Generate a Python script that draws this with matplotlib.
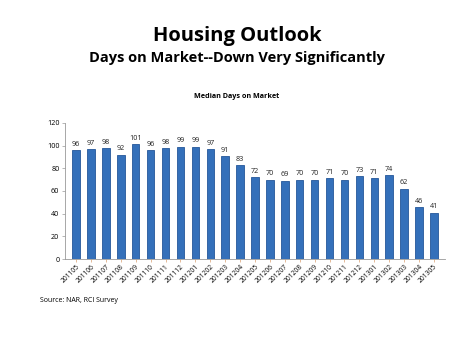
import matplotlib.pyplot as plt

plt.rcParams['font.family'] = ['Open Sans', 'DejaVu Sans']

months = ['201105', '201106', '201107', '201108', '201109', '201110', '201111',
          '201112', '201201', '201202', '201203', '201204', '201205', '201206',
          '201207', '201208', '201209', '201210', '201211', '201212', '201301',
          '201302', '201303', '201304', '201305']
days = [96, 97, 98, 92, 101, 96, 98, 99, 99, 97, 91, 83, 72, 70, 69, 70, 70,
        71, 70, 73, 71, 74, 62, 46, 41]

fig = plt.figure(figsize=(4.74, 3.55), dpi=100)
ax = fig.add_axes([0.137, 0.270, 0.802, 0.384])

x = range(len(months))
bars = ax.bar(x, days, width=0.5, color='#3470BA', edgecolor='#24579A', linewidth=0.6)
for xi, v in zip(x, days):
    ax.text(xi, v + 2, str(v), ha='center', va='bottom', fontsize=5.2, color='#222222')

ax.set_xlim(-0.75, len(months) - 0.25)
ax.set_ylim(0, 120)
ax.set_yticks(range(0, 121, 20))
ax.set_xticks(list(x))
ax.set_xticklabels(months, rotation=45, ha='right', rotation_mode='anchor', fontsize=4.8)
ax.tick_params(axis='y', labelsize=5.2, length=2, color='#999999', width=0.5, pad=2)
ax.tick_params(axis='x', length=2, color='#D9A070', width=0.5, pad=1)
for s in ['top', 'right']:
    ax.spines[s].set_visible(False)
ax.spines['left'].set_color('#999999')
ax.spines['bottom'].set_color('#999999')
ax.spines['left'].set_linewidth(0.6)
ax.spines['bottom'].set_linewidth(0.6)

fig.text(0.5, 0.90, 'Housing Outlook', ha='center', va='center', fontsize=14.5, fontweight='bold')
fig.text(0.5, 0.838, 'Days on Market--Down Very Significantly', ha='center', va='center',
         fontsize=10.5, fontweight='bold')
fig.text(0.5, 0.727, 'Median Days on Market', ha='center', va='center', fontsize=5.2,
         fontweight='bold')
fig.text(0.085, 0.153, 'Source: NAR, RCI Survey', ha='left', va='center', fontsize=5)

fig.savefig('out.png', dpi=100)
